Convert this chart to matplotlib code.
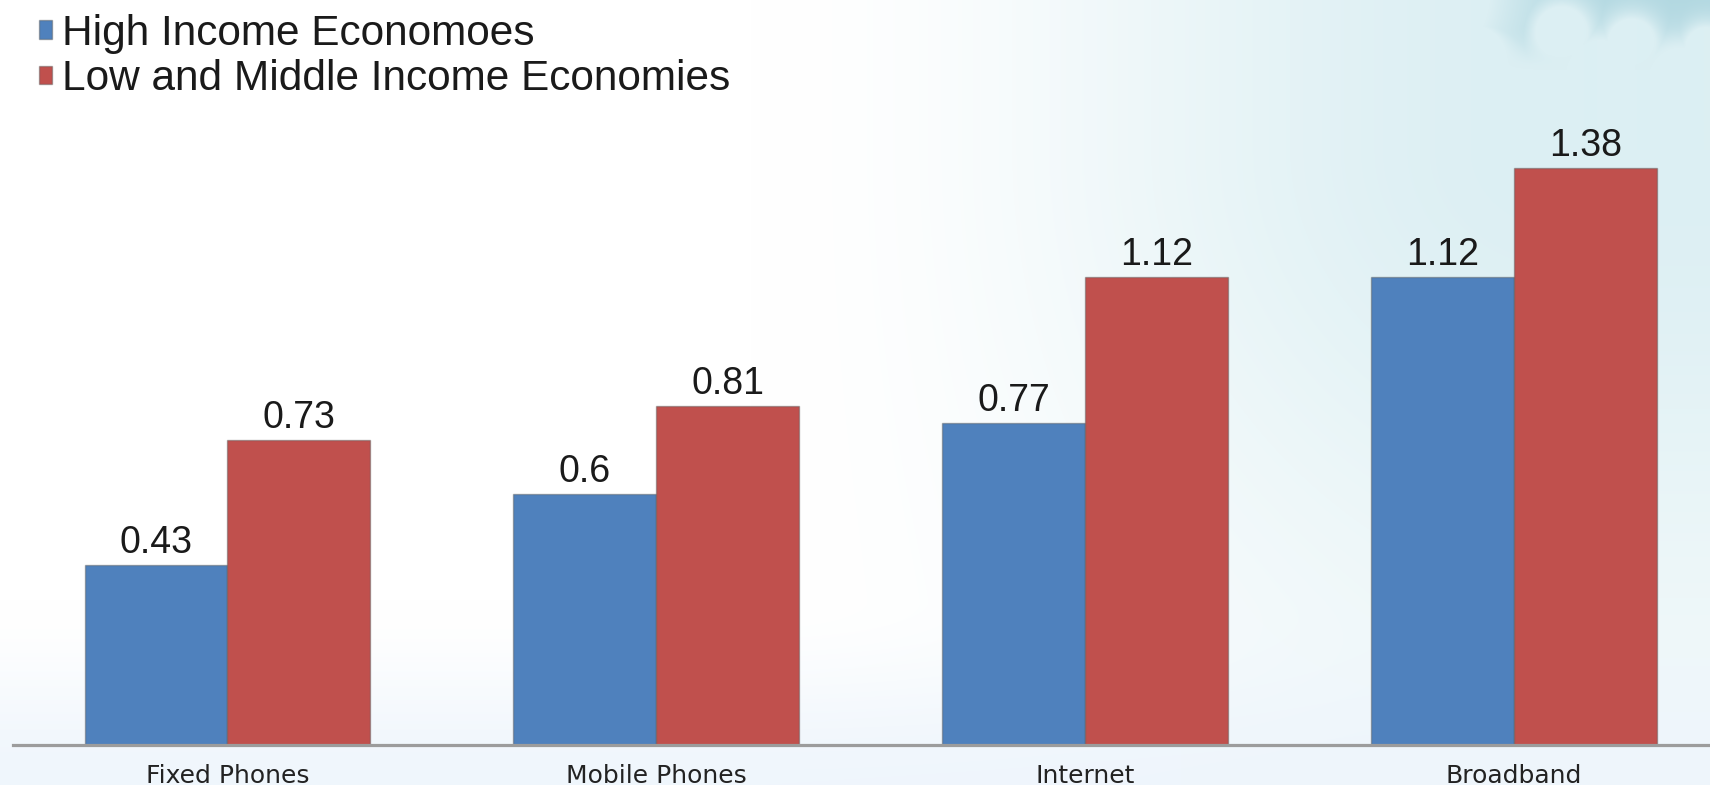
import numpy as np
import matplotlib
matplotlib.use("Agg")
import matplotlib.pyplot as plt

categories = ["Fixed Phones", "Mobile Phones", "Internet", "Broadband"]
high_income = [0.43, 0.6, 0.77, 1.12]
low_mid_income = [0.73, 0.81, 1.12, 1.38]
series_names = ["High Income Economoes", "Low and Middle Income Economies"]

W, H = 1710, 785
fig = plt.figure(figsize=(W / 100, H / 100), dpi=100)


def smooth(t):
    t = np.clip(t, 0, 1)
    return t * t * (3 - 2 * t)


# sky-ish backdrop: white on the left, cyan haze to the right, blue sky with clouds top right
yy, xx = np.mgrid[0:H, 0:W].astype(float)
img = np.ones((H, W, 3))

haze = smooth((xx - 750) / 800) * (1 - 0.55 * smooth((yy - 150) / 550))
haze_col = np.array([220, 239, 243]) / 255
img = img * (1 - haze[..., None]) + haze_col * haze[..., None]

sky = smooth((xx - 1380) / 100) * (1 - smooth((yy - 25) / 45))
puffs = [(1400, -10, 75), (1560, 32, 22), (1630, 42, 20), (1705, 48, 18),
         (1470, 60, 30), (1600, 75, 30), (1680, 80, 28)]
cloud = np.zeros((H, W))
for cx, cy, r in puffs:
    cloud = np.maximum(cloud, np.exp(-((xx - cx) ** 2 + (yy - cy) ** 2) / (2 * r * r)) * 2.0)
cloud = np.clip(cloud, 0, 1)
sky = sky * (1 - cloud)
sky_col = np.array([178, 216, 225]) / 255
img = img * (1 - sky[..., None]) + sky_col * sky[..., None]

bottom = smooth((yy - 600) / 185) * 0.9
bottom_col = np.array([238, 245, 252]) / 255
img = img * (1 - bottom[..., None]) + bottom_col * bottom[..., None]

bg = fig.add_axes([0, 0, 1, 1], zorder=-1)
bg.imshow(img, aspect="auto", interpolation="bilinear")
bg.axis("off")

ax = fig.add_axes([13 / W, 40 / H, (W - 13) / W, 745 / H])
ax.patch.set_alpha(0)

x = np.arange(len(categories))
w = 0.333
blue = "#4F81BD"
red = "#C0504D"
b1 = ax.bar(x - w / 2, high_income, w, color=blue, edgecolor=(0.35, 0.35, 0.35, 0.45),
            linewidth=1.0, label=series_names[0])
b2 = ax.bar(x + w / 2, low_mid_income, w, color=red, edgecolor=(0.35, 0.35, 0.35, 0.45),
            linewidth=1.0, label=series_names[1])

for bars, vals in ((b1, high_income), (b2, low_mid_income)):
    ax.bar_label(bars, labels=[f"{v:g}" for v in vals], padding=3,
                 fontsize=27, family="Liberation Sans", color="#1a1a1a")

ax.set_xlim(-0.5, 3.457)
ax.set_ylim(0, 1.782)
ax.set_xticks(x)
ax.set_xticklabels(categories, fontsize=18, family="DejaVu Sans", color="#222222")
ax.tick_params(axis="x", length=0, pad=14)
ax.set_yticks([])
for s in ("top", "right", "left"):
    ax.spines[s].set_visible(False)
ax.spines["bottom"].set_color("#9c9c9c")
ax.spines["bottom"].set_linewidth(2.3)

leg = fig.legend(handles=[b1, b2], loc="upper left", bbox_to_anchor=(39 / W, 1 - 14 / H),
                 frameon=False, prop={"family": "Liberation Sans", "size": 30.5},
                 handlelength=0.3, handleheight=0.3, handletextpad=0.25,
                 labelspacing=0.12, borderpad=0, borderaxespad=0)
for t in leg.get_texts():
    t.set_color("#1a1a1a")

fig.savefig("out.png", dpi=100)
